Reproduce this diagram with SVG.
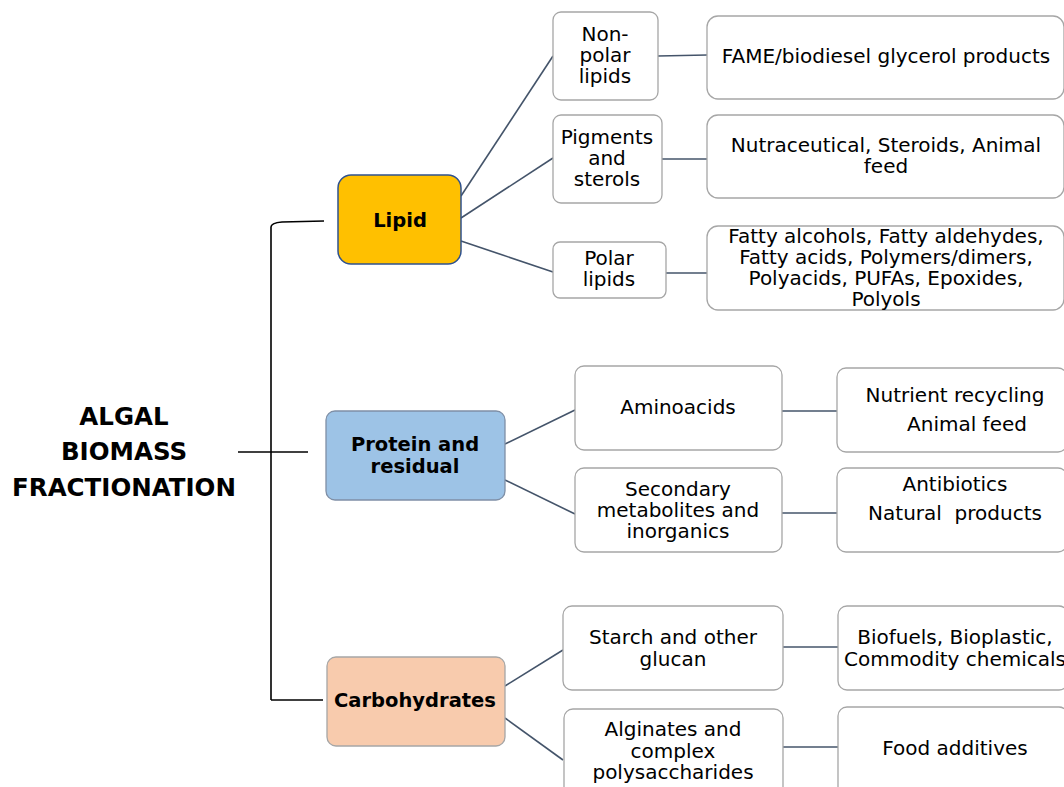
<svg xmlns="http://www.w3.org/2000/svg" width="1064" height="787" viewBox="0 0 1064 787">
<style>
.t{font-family:"DejaVu Sans",Verdana,sans-serif;font-size:20px;fill:#000;text-anchor:middle}
.b{font-family:"DejaVu Sans",Verdana,sans-serif;font-size:19.5px;font-weight:bold;fill:#000;text-anchor:middle}
.ti{font-family:"DejaVu Sans",Verdana,sans-serif;font-size:24.5px;font-weight:bold;fill:#000;text-anchor:middle}
.w{fill:#fff;stroke:#a6a6a6;stroke-width:1.3}
.c{stroke:#44546a;stroke-width:1.6;fill:none}
.k{stroke:#000;stroke-width:1.6;fill:none}
</style>
<rect width="1064" height="787" fill="#fff"/>
<g id="connectors">
<path class="k" d="M271,700 L271,227 Q271,223 282,222 L324,221"/>
<path class="k" d="M271,700 L323,700"/>
<path class="k" d="M238,452 L308,452"/>
<path class="c" d="M461,196 L553,56"/>
<path class="c" d="M461,218 L553,158"/>
<path class="c" d="M461,241 L553,272"/>
<path class="c" d="M658,56 L707,55"/>
<path class="c" d="M662,159 L707,159"/>
<path class="c" d="M666,273 L707,273"/>
<path class="c" d="M505,444 L575,410"/>
<path class="c" d="M505,480 L575,514"/>
<path class="c" d="M782,411 L837,411"/>
<path class="c" d="M782,513 L837,513"/>
<path class="c" d="M505,686 L563,650"/>
<path class="c" d="M505,718 L563,760"/>
<path class="c" d="M783,647 L838,647"/>
<path class="c" d="M783,747 L838,747"/>
</g>
<g id="title">
<text class="ti" x="124" y="425">ALGAL</text>
<text class="ti" x="124" y="460">BIOMASS</text>
<text class="ti" x="124" y="496">FRACTIONATION</text>
</g>
<g id="lipid">
<rect x="338" y="175" width="123" height="89" rx="13" fill="#ffc000" stroke="#2f528f" stroke-width="1.5"/>
<text class="b" x="400" y="227">Lipid</text>
</g>
<g id="protein">
<rect x="326" y="411" width="179" height="89" rx="9" fill="#9dc3e6" stroke="#7f8fa6" stroke-width="1.3"/>
<text class="b" x="415" y="451">Protein and</text>
<text class="b" x="415" y="473">residual</text>
</g>
<g id="carbohydrates">
<rect x="327" y="657" width="178" height="89" rx="9" fill="#f8cbad" stroke="#a6a6a6" stroke-width="1.3"/>
<text class="b" x="415" y="707">Carbohydrates</text>
</g>
<g id="nonpolar">
<rect class="w" x="553" y="12" width="105" height="88" rx="8"/>
<text class="t" x="605" y="41">Non-</text>
<text class="t" x="605" y="62">polar</text>
<text class="t" x="605" y="83">lipids</text>
</g>
<g id="fame">
<rect class="w" x="707" y="16" width="357" height="83" rx="11"/>
<text class="t" x="886" y="63">FAME/biodiesel glycerol products</text>
</g>
<g id="pigments">
<rect class="w" x="553" y="115" width="109" height="88" rx="8"/>
<text class="t" x="607" y="144">Pigments</text>
<text class="t" x="607" y="165">and</text>
<text class="t" x="607" y="186">sterols</text>
</g>
<g id="nutraceutical">
<rect class="w" x="707" y="115" width="357" height="83" rx="11"/>
<text class="t" x="886" y="152">Nutraceutical, Steroids, Animal</text>
<text class="t" x="886" y="173">feed</text>
</g>
<g id="polar">
<rect class="w" x="553" y="242" width="113" height="56" rx="7"/>
<text class="t" x="609" y="265">Polar</text>
<text class="t" x="609" y="286">lipids</text>
</g>
<g id="fatty">
<rect class="w" x="707" y="226" width="357" height="84" rx="11"/>
<text class="t" x="886" y="243">Fatty alcohols, Fatty aldehydes,</text>
<text class="t" x="886" y="264">Fatty acids, Polymers/dimers,</text>
<text class="t" x="886" y="285">Polyacids, PUFAs, Epoxides,</text>
<text class="t" x="886" y="306">Polyols</text>
</g>
<g id="aminoacids">
<rect class="w" x="575" y="366" width="207" height="84" rx="9"/>
<text class="t" x="678" y="414">Aminoacids</text>
</g>
<g id="nutrient">
<rect class="w" x="837" y="368" width="230" height="84" rx="9"/>
<text class="t" x="955" y="402">Nutrient recycling</text>
<text class="t" x="967" y="431">Animal feed</text>
</g>
<g id="secondary">
<rect class="w" x="575" y="468" width="207" height="84" rx="9"/>
<text class="t" x="678" y="496">Secondary</text>
<text class="t" x="678" y="517">metabolites and</text>
<text class="t" x="678" y="538">inorganics</text>
</g>
<g id="antibiotics">
<rect class="w" x="837" y="468" width="230" height="84" rx="9"/>
<text class="t" x="955" y="491">Antibiotics</text>
<text class="t" x="955" y="520">Natural&#160; products</text>
</g>
<g id="starch">
<rect class="w" x="563" y="606" width="220" height="84" rx="9"/>
<text class="t" x="673" y="644">Starch and other</text>
<text class="t" x="673" y="666">glucan</text>
</g>
<g id="biofuels">
<rect class="w" x="838" y="606" width="230" height="84" rx="9"/>
<text class="t" x="955" y="644">Biofuels, Bioplastic,</text>
<text class="t" x="955" y="666">Commodity chemicals</text>
</g>
<g id="alginates">
<rect class="w" x="564" y="709" width="219" height="95" rx="9"/>
<text class="t" x="673" y="736">Alginates and</text>
<text class="t" x="673" y="758">complex</text>
<text class="t" x="673" y="779">polysaccharides</text>
</g>
<g id="food">
<rect class="w" x="838" y="707" width="230" height="95" rx="9"/>
<text class="t" x="955" y="755">Food additives</text>
</g>
</svg>
